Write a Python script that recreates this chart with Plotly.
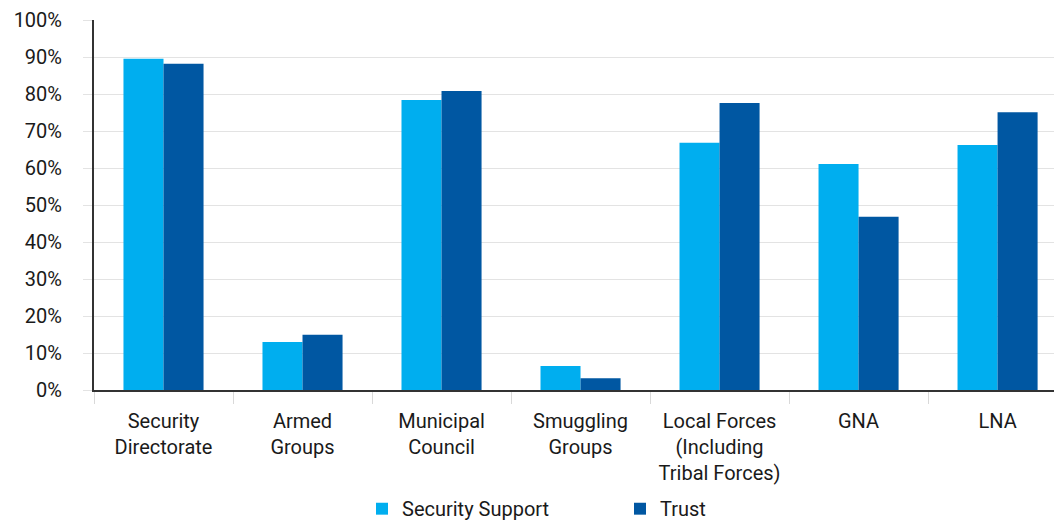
import plotly.graph_objects as go

categories = ["Security<br>Directorate", "Armed<br>Groups", "Municipal<br>Council",
              "Smuggling<br>Groups", "Local Forces<br>(Including<br>Tribal Forces)", "GNA", "LNA"]
security_support = [89.5, 13.0, 78.4, 6.5, 66.8, 61.1, 66.2]
trust = [88.2, 14.9, 80.8, 3.2, 77.6, 46.8, 75.1]
y_ticks = [0, 10, 20, 30, 40, 50, 60, 70, 80, 90, 100]

light = "#00AEEF"
dark = "#0057A2"
font = "Roboto"

fig = go.Figure()
fig.add_trace(go.Bar(x=categories, y=security_support, name="Security Support",
                     marker=dict(color=light, line=dict(width=0))))
fig.add_trace(go.Bar(x=categories, y=trust, name="Trust",
                     marker=dict(color=dark, line=dict(width=0))))

fig.update_layout(
    width=1054, height=523,
    margin=dict(l=94, r=0, t=20, b=133, autoexpand=False),
    paper_bgcolor="white", plot_bgcolor="white",
    barmode="group", bargap=0.424, bargroupgap=0,
    font=dict(family=font, size=20, color="#1a1a1a"),
    showlegend=True,
    legend=dict(orientation="h", xref="container", yref="paper",
                x=362 / 1054, xanchor="left", y=-0.268, yanchor="top",
                font=dict(size=20), entrywidth=213, entrywidthmode="pixels",
                traceorder="normal"),
    xaxis=dict(range=[-0.5, 6.406], showline=True, linecolor="#333333", linewidth=2,
               ticks="outside", tickson="boundaries", ticklen=12, tickcolor="#d9d9d9",
               tickwidth=1, showgrid=False, tickfont=dict(size=20), tickangle=0,
               ticklabelstandoff=12),
    yaxis=dict(range=[0, 100], tickvals=y_ticks, ticktext=[f"{v}%" for v in y_ticks],
               showline=True, linecolor="#333333", linewidth=2,
               showgrid=True, gridcolor="#e3e3e3", gridwidth=1,
               ticks="outside", ticklen=9, tickcolor="#e3e3e3", tickwidth=1,
               tickfont=dict(size=20), zeroline=False, ticklabelstandoff=17),
)

fig.write_html("out.html")
